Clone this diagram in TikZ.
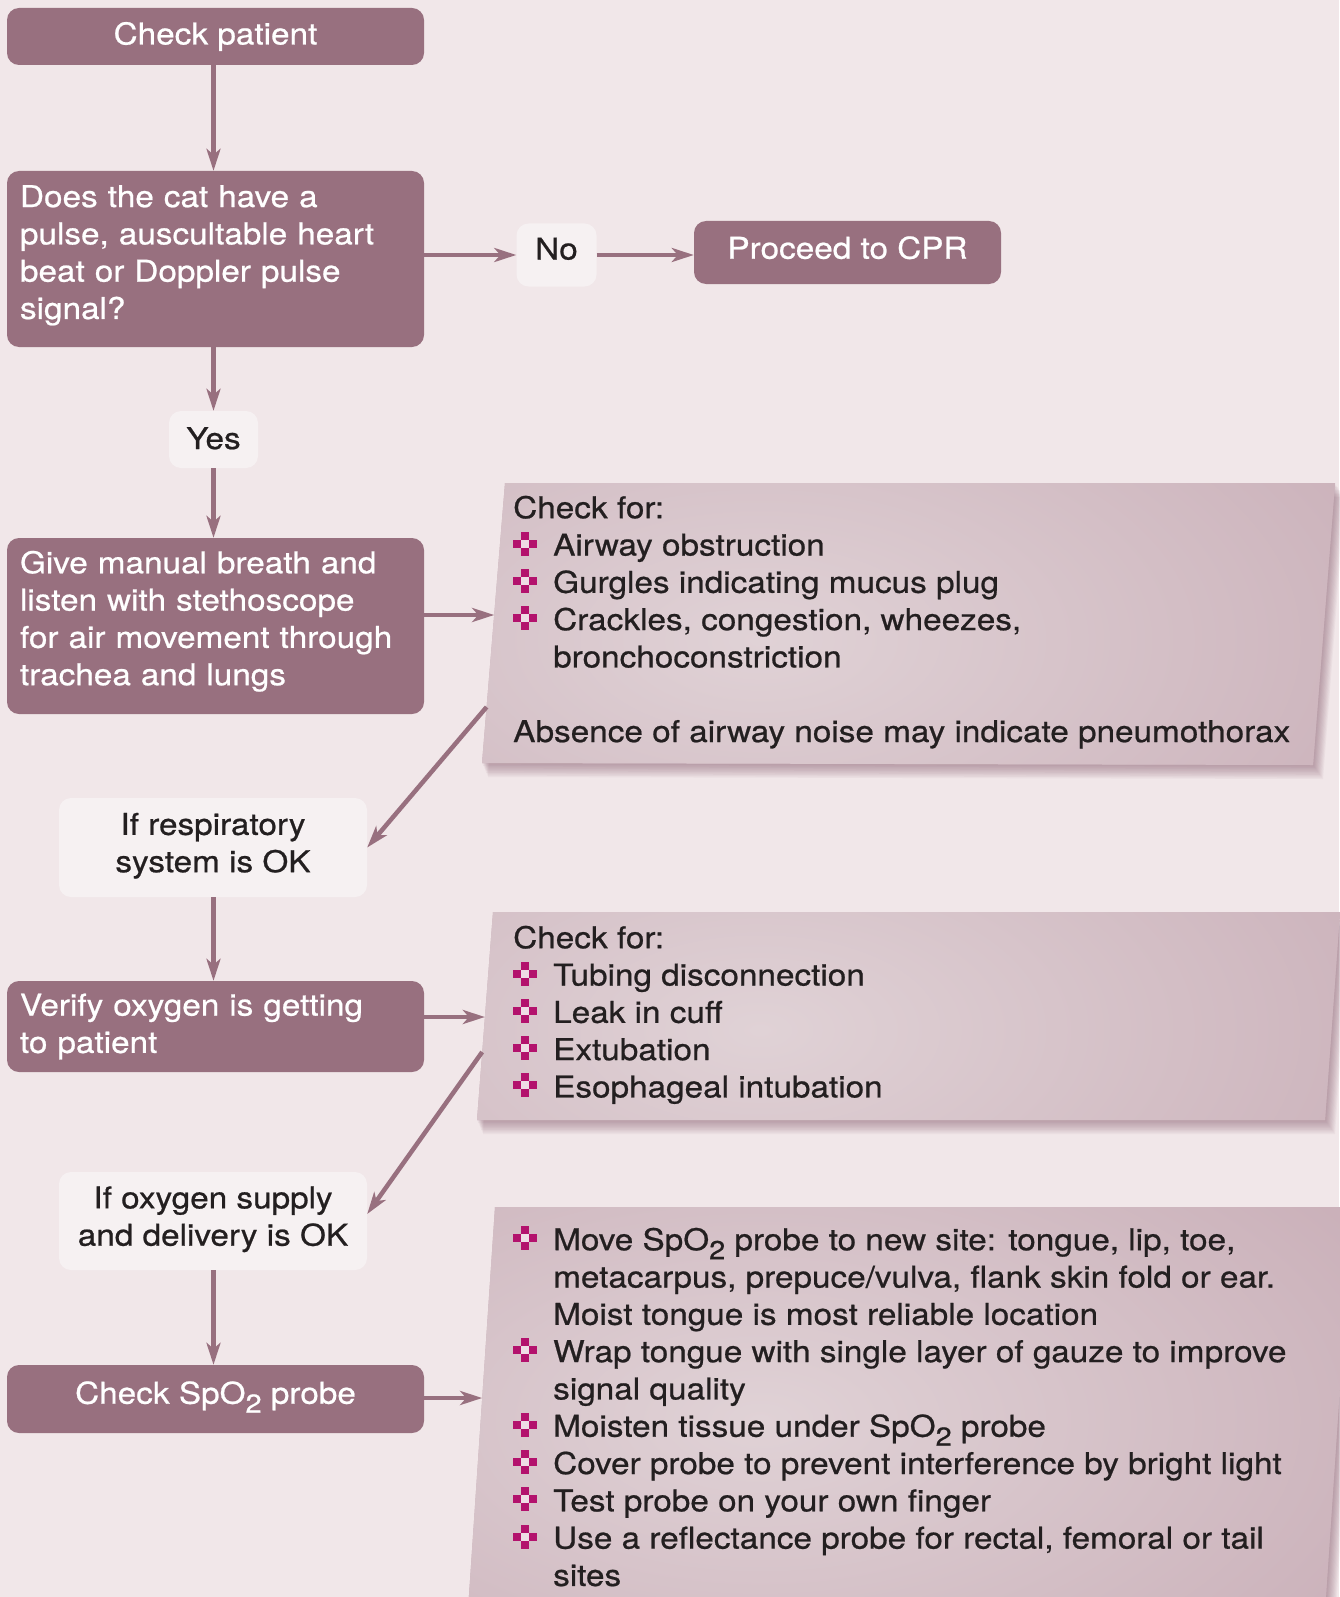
\documentclass[tikz,border=0pt]{standalone}
\usepackage{fontspec}
\setmainfont{TeX Gyre Heros}[FakeStretch=1.11, FakeBold=0.7]
\usetikzlibrary{arrows.meta,calc}
\definecolor{bg}{HTML}{F1E7E9}
\definecolor{boxc}{HTML}{98707F}
\definecolor{labc}{HTML}{F6F1F2}
\definecolor{txt}{HTML}{231F20}
\definecolor{bulc}{HTML}{B3126D}
\definecolor{bulin}{HTML}{EEDDE5}
\definecolor{pD}{HTML}{CAB0B9}
\definecolor{pL}{HTML}{E0D2D6}
\definecolor{shc}{HTML}{7A4A5E}
\newcommand\tstrut{\rule{0pt}{22pt}}
\newcommand\bstrut[1]{\rule[-#1pt]{0pt}{#1pt}}
\newcommand\subtwo{\raisebox{-9pt}{\fontsize{26}{26}\selectfont 2}}
\newcommand\sqbul{\makebox[40pt][l]{\textcolor{bulc}{\rule[8pt]{8pt}{8pt}\rlap{\rule[16pt]{8pt}{8pt}}\rlap{\textcolor{bulin}{\rule[8pt]{8pt}{8pt}}}\rule{8pt}{8pt}\rule[8pt]{8pt}{8pt}}}}
\newcommand\indnt{\hspace*{40pt}}
\newcommand\drawpanel[5]{%
  \foreach \k in {1,...,10}{%
    \fill[shc,opacity=0.055] ($#2+(0.6*\k,1.4*\k)$) -- ($#3+(1.0*\k,1.4*\k)$) -- ($#4+(1.0*\k,1.4*\k)$) -- ($#5+(0.6*\k,1.4*\k)$) -- cycle;}
  \path[fill=pD, path picture={\shade[inner color=pL, outer color=pD] #1 ellipse (720 and 380);}] #2 -- #3 -- #4 -- #5 -- cycle;
}
\begin{document}
\begin{tikzpicture}[x=1pt,y=-1pt,
  box/.style={fill=boxc, rounded corners=12pt, text=white, inner sep=0pt, align=center, font=\fontsize{30}{37.3}\selectfont},
  leftbox/.style={box, align=left, text width=391pt, inner xsep=13pt},
  lab/.style={fill=labc, rounded corners=12pt, text=txt, inner sep=0pt, align=center, font=\fontsize{30}{37.3}\selectfont},
  ptext/.style={inner sep=0pt, align=left, text=txt, font=\fontsize{30}{37.3}\selectfont, anchor=north west},
  arr/.style={draw=boxc, line width=4.5pt, -{Stealth[length=22pt,width=14pt,inset=6pt]}}
]
\fill[bg] (0,0) rectangle (1339,1597);
\useasboundingbox (0,0) rectangle (1339,1597);

% panels
\drawpanel{(760,640)}{(505,483)}{(1335,483)}{(1313,765)}{(482,763)}
\drawpanel{(760,1030)}{(493,912)}{(1340,912)}{(1325,1120)}{(477,1120)}
\drawpanel{(760,1420)}{(495,1207)}{(1352,1207)}{(1325,1610)}{(468,1610)}
\coordinate (p1in) at (494.2,615);
\coordinate (p1out) at (486.6,707);
\coordinate (p2in) at (484.9,1017);
\coordinate (p2out) at (482.2,1052);
\coordinate (p3in) at (482.2,1398);

% boxes
\node[box, minimum width=417pt, minimum height=57pt] (cp) at (215.5,36.5) {\tstrut Check patient\bstrut{5}};
\node[leftbox, minimum height=176pt] (q) at (215.5,259) {\tstrut Does the cat have a\\pulse, auscultable heart\\beat or Doppler pulse\\signal?\bstrut{14}};
\node[lab, minimum width=80pt, minimum height=63pt] (no) at (556.5,255) {\tstrut No\bstrut{13}};
\node[box, minimum width=307pt, minimum height=63pt] (cpr) at (847.5,252.5) {\tstrut Proceed to CPR\bstrut{10}};
\node[lab, minimum width=89pt, minimum height=57pt] (yes) at (213.5,439.5) {\tstrut Yes\bstrut{3}};
\node[leftbox, minimum height=176pt] (give) at (215.5,626) {\tstrut Give manual breath and\\listen with stethoscope\\for air movement through\\trachea and lungs\bstrut{16}};
\node[lab, minimum width=308pt, minimum height=99pt] (ifr) at (213,847.5) {\tstrut If respiratory\\system is OK\bstrut{10}};
\node[leftbox, minimum height=91pt] (ver) at (215.5,1026.5) {\tstrut Verify oxygen is getting\\to patient\bstrut{6}};
\node[lab, minimum width=308pt, minimum height=98pt] (ifo) at (213,1221) {\tstrut If oxygen supply\\and delivery is OK\bstrut{10}};
\node[box, minimum width=417pt, minimum height=68pt] (spo) at (215.5,1399) {\tstrut Check SpO\subtwo{} probe\bstrut{13}};

% panel texts
\node[ptext] (t1) at (513,493) {\rule{0pt}{25pt}Check for:\\
\sqbul Airway obstruction\\
\sqbul Gurgles indicating mucus plug\\
\sqbul Crackles, congestion, wheezes,\\
\indnt bronchoconstriction\\[37.3pt]
Absence of airway noise may indicate pneumothorax};
\node[ptext] (t2) at (513,923) {\rule{0pt}{25pt}Check for:\\
\sqbul Tubing disconnection\\
\sqbul Leak in cuff\\
\sqbul Extubation\\
\sqbul Esophageal intubation};
\node[ptext] (t3) at (513,1225) {\rule{0pt}{25pt}\sqbul Move SpO\subtwo{} probe to new site: tongue, lip, toe,\\
\indnt metacarpus, prepuce/vulva, flank skin fold or ear.\\
\indnt Moist tongue is most reliable location\\
\sqbul Wrap tongue with single layer of gauze to improve\\
\indnt signal quality\\
\sqbul Moisten tissue under SpO\subtwo{} probe\\
\sqbul Cover probe to prevent interference by bright light\\
\sqbul Test probe on your own finger\\
\sqbul Use a reflectance probe for rectal, femoral or tail\\
\indnt sites};

% connectors
\draw[arr] (cp.south -| yes) -- (q.north -| yes);
\draw[arr] (q.east |- no.west) -- (no.west);
\draw[arr] (no.east) -- (cpr.west |- no.east);
\draw[arr] (q.south -| yes) -- (yes.north);
\draw[arr] (yes.south) -- (give.north -| yes);
\draw[arr] (give.east |- p1in) -- (p1in);
\draw[arr] (p1out) -- (ifr.east);
\draw[arr] (ifr.south -| yes) -- (ver.north -| yes);
\draw[arr] (ver.east |- p2in) -- (p2in);
\draw[arr] (p2out) -- ($(ifo.east)+(0,-7)$);
\draw[arr] (ifo.south -| yes) -- (spo.north -| yes);
\draw[arr] (spo.east |- p3in) -- (p3in);
\end{tikzpicture}
\end{document}
